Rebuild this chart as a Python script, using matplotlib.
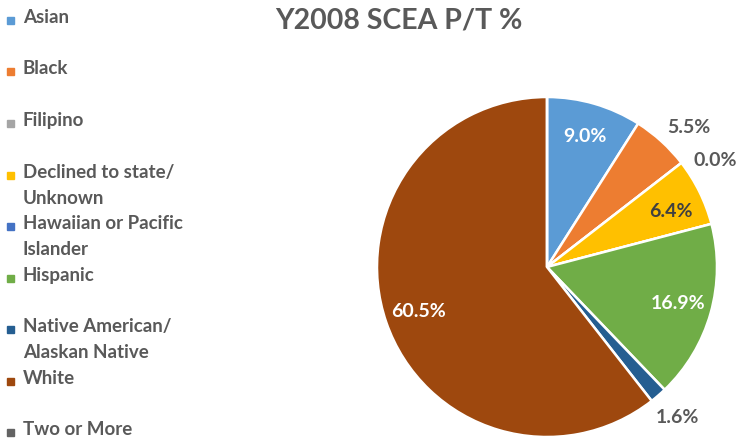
import matplotlib
matplotlib.use("Agg")
import numpy as np
import matplotlib.pyplot as plt
from matplotlib.patches import Rectangle

# data
categories = ["Asian", "Black", "Filipino", "Declined to state/\nUnknown",
              "Hawaiian or Pacific\nIslander", "Hispanic",
              "Native American/\nAlaskan Native", "White", "Two or More"]
shares = [9.0, 5.5, 0.0, 6.4, 0.0, 16.9, 1.6, 60.5, 0.0]
shown = [True, True, True, True, False, True, True, True, False]
outside = [False, True, True, False, True, False, True, False, True]
# small angular nudges (degrees) so outside labels don't collide, as in Excel
nudge = [0, 3, 5.5, 2, 0, 0, 0, 0, 0]

colors = ["#5B9BD5", "#ED7D31", "#A5A5A5", "#FFC000", "#4472C4",
          "#70AD47", "#255E91", "#9E480E", "#636363"]
label_c = ["white", "#595959", "#595959", "#404040", "#595959",
           "white", "#595959", "white", "#595959"]

plt.rcParams["font.family"] = ["Lato", "DejaVu Sans"]
W, H = 743, 444
fig = plt.figure(figsize=(W / 100, H / 100), dpi=100)

# pie axes: centre (547, 267) px, radius 170 px
cx, cy, r = 547, 267, 170
ax = fig.add_axes([(cx - r) / W, (H - cy - r) / H, 2 * r / W, 2 * r / H])
wedges, _ = ax.pie(shares, colors=colors, startangle=90, counterclock=False,
                   wedgeprops=dict(edgecolor="white", linewidth=1.8))
ax.set_xlim(-1, 1)
ax.set_ylim(-1, 1)
ax.set_aspect("equal")

total = sum(shares)
start = 0.0
for val, show, out, c, nd in zip(shares, shown, outside, label_c, nudge):
    mid = (start + val / 2) / total * 2 * np.pi + np.radians(nd)  # clockwise from top
    start += val
    if not show:
        continue
    rr = 1.17 if out else 0.80
    ax.text(rr * np.sin(mid), rr * np.cos(mid), f"{val:.1f}%",
            ha="center", va="center", fontsize=14, fontweight="bold", color=c)

fig.text(399 / W, 1 - 21 / H, "Y2008 SCEA P/T %", ha="center", va="center",
         fontsize=20.5, fontweight="bold", color="#595959")

# legend drawn by hand in pixel coordinates
lax = fig.add_axes([0, 0, 1, 1])
lax.set_xlim(0, W)
lax.set_ylim(H, 0)
lax.axis("off")
step = 51.5
for i, (lab, col) in enumerate(zip(categories, colors)):
    y = 19.5 + i * step
    lax.add_patch(Rectangle((7, y - 2.5), 7, 7, color=col))
    lax.text(23, y - 10.5, lab, ha="left", va="top", fontsize=13.5,
             fontweight="bold", color="#595959", linespacing=1.66)

fig.savefig("out.png", dpi=100)
